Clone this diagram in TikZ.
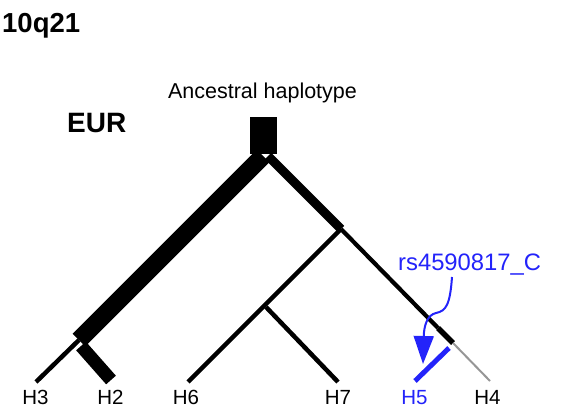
\documentclass[tikz,border=0pt]{standalone}
\usepackage{fontspec}
\setmainfont{Liberation Sans}
\usetikzlibrary{arrows.meta}
\definecolor{snpblue}{RGB}{35,35,250}
\definecolor{branchgray}{RGB}{150,150,150}
\tikzset{
  hlabel/.style={anchor=base, inner sep=0pt, font=\fontsize{20.5}{22}\selectfont},
  branch/.style={line cap=butt, draw=black},
  thinbranch/.style={branch, line width=4.5pt},
}
\begin{document}
\begin{tikzpicture}[x=1pt,y=-1pt]
\useasboundingbox (0,0) rectangle (561,411);
% titles
\node[anchor=base west, inner sep=0pt, font=\fontsize{27.5}{30}\selectfont\bfseries] (title) at (2,33) {10q21};
\node[anchor=base west, inner sep=0pt, font=\fontsize{28}{30}\selectfont\bfseries] (eur) at (67,132.5) {EUR};
\node[anchor=base, inner sep=0pt, font=\fontsize{21.5}{24}\selectfont] (anc) at (262.5,98.3) {Ancestral haplotype};
% root box
\fill (250,117) rectangle (277,154);
% coordinates
\coordinate (rootL) at (263,156);
\coordinate (rootR) at (268,156);
\coordinate (n1) at (79,340);
\coordinate (n2) at (341,229);
\coordinate (n3) at (266,307);
\coordinate (n4a) at (438,328);
\coordinate (n4) at (453,343);
\coordinate (t3) at (36,382);
\coordinate (t2a) at (81,346);
\coordinate (t2) at (111,380);
\coordinate (t6) at (188,382);
\coordinate (t7) at (338,382);
\coordinate (t5a) at (449,348);
\coordinate (t5) at (415,381);
\coordinate (t4) at (490,381);
% branches
\draw[branch, line width=18pt] (rootL) -- (n1);
\draw[branch, line width=4.5pt] (n1) -- (t3);
\draw[branch, line width=13pt] (t2a) -- (t2);
\draw[branch, line width=9pt] (rootR) -- (n2);
\draw[thinbranch] (n2) -- (t6);
\draw[thinbranch] (n3) -- (t7);
\draw[branch, line width=4.2pt] (n2) -- (n4a);
\draw[branch, line width=5.5pt] (n4a) -- (n4);
\draw[branch, draw=branchgray, line width=2pt] (n4) -- (t4);
\draw[branch, draw=snpblue, line width=5pt] (t5a) -- (t5);
% leaf labels
\node[hlabel] (h3) at (35.5,404.5) {H3};
\node[hlabel] (h2) at (110.5,404.5) {H2};
\node[hlabel] (h6) at (186,404.5) {H6};
\node[hlabel] (h7) at (338,404.5) {H7};
\node[hlabel, text=snpblue] (h5) at (414.5,404.5) {H5};
\node[hlabel] (h4) at (487.5,404.5) {H4};
% SNP callout
\node[anchor=base west, inner sep=0pt, text=snpblue, font=\fontsize{23.8}{26}\selectfont] (rs) at (398,270.7) {rs4590817\_C};
\coordinate (a0) at (452,277);
\coordinate (a1) at (423,364);
\draw[snpblue, line width=2pt, -{Triangle[width=20pt,length=28pt]}]
  (a0) .. controls (450,305) and (446,311) .. (436,313)
       .. controls (427,315) and (424,326) .. (a1);
\end{tikzpicture}
\end{document}
